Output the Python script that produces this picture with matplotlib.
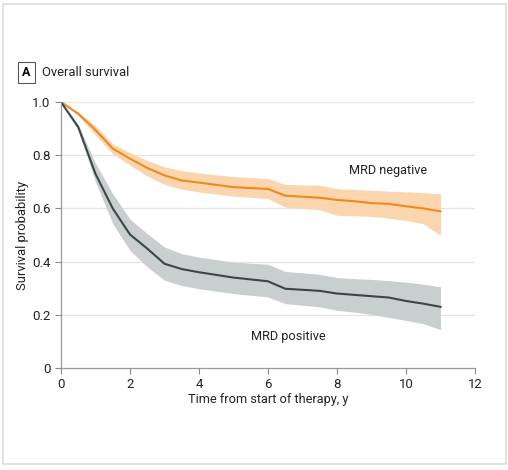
import numpy as np
import matplotlib.pyplot as plt
from matplotlib.patches import Rectangle

plt.rcParams['font.family'] = ['Roboto', 'DejaVu Sans']

# MRD negative (orange)
neg_t = [0, 0.5, 1, 1.5, 2, 2.5, 3, 3.5, 4, 5, 6, 6.5, 7.5, 8, 8.5, 9, 9.5, 10, 10.5, 11]
neg_s = [1.0, 0.956, 0.895, 0.825, 0.787, 0.752, 0.724, 0.705, 0.697, 0.68, 0.673, 0.648, 0.64, 0.632, 0.627, 0.62, 0.617, 0.608, 0.6, 0.589]
neg_hi = [1.0, 0.962, 0.91, 0.843, 0.81, 0.78, 0.756, 0.742, 0.733, 0.72, 0.712, 0.69, 0.687, 0.674, 0.671, 0.668, 0.665, 0.662, 0.659, 0.655]
neg_lo = [1.0, 0.95, 0.875, 0.806, 0.762, 0.722, 0.69, 0.672, 0.662, 0.646, 0.637, 0.605, 0.595, 0.574, 0.572, 0.57, 0.563, 0.555, 0.542, 0.499]

# MRD positive (gray)
pos_t = [0, 0.5, 1, 1.5, 2, 2.5, 3, 3.5, 4, 5, 6, 6.5, 7.5, 8, 8.5, 9, 9.5, 10, 10.5, 11]
pos_s = [1.0, 0.906, 0.73, 0.6, 0.502, 0.449, 0.392, 0.372, 0.36, 0.34, 0.326, 0.298, 0.29, 0.28, 0.275, 0.27, 0.265, 0.252, 0.242, 0.23]
pos_hi = [1.0, 0.915, 0.77, 0.655, 0.56, 0.505, 0.455, 0.43, 0.417, 0.398, 0.39, 0.363, 0.352, 0.34, 0.336, 0.333, 0.328, 0.323, 0.315, 0.305]
pos_lo = [1.0, 0.895, 0.70, 0.543, 0.442, 0.38, 0.33, 0.31, 0.298, 0.28, 0.267, 0.242, 0.23, 0.217, 0.21, 0.202, 0.19, 0.179, 0.167, 0.144]

xticks = [0, 2, 4, 6, 8, 10, 12]
yticks = [0, 0.2, 0.4, 0.6, 0.8, 1.0]
ytick_labels = ['0', '0.2', '0.4', '0.6', '0.8', '1.0']

fig = plt.figure(figsize=(5.08, 4.70), dpi=100)
ax = fig.add_axes([0.120, 0.217, 0.815, 0.566])

# outer light frame
fig.patches.append(Rectangle((0.006, 0.013), 0.990, 0.978, transform=fig.transFigure,
                             fill=False, edgecolor='#dddddd', linewidth=1.2))

ax.fill_between(neg_t, neg_lo, neg_hi, color='#fbd5ad', linewidth=0)
ax.fill_between(pos_t, pos_lo, pos_hi, color='#c9cfce', linewidth=0)
ax.plot(neg_t, neg_s, color='#ee8a1e', linewidth=1.5)
ax.plot(pos_t, pos_s, color='#3a4747', linewidth=1.5)

ax.text(9.48, 0.744, 'MRD negative', ha='center', va='center', fontsize=9.2, color='#222222')
ax.text(6.58, 0.117, 'MRD positive', ha='center', va='center', fontsize=9.2, color='#222222')

ax.set_xlim(0, 12)
ax.set_ylim(0, 1.0)
ax.set_xticks(xticks)
ax.set_yticks(yticks)
ax.set_yticklabels(ytick_labels)
ax.tick_params(labelsize=9.5, colors='#888888', length=4, width=0.8)
for lbl in ax.get_yticklabels() + ax.get_xticklabels():
    lbl.set_color('#222222')

ax.set_axisbelow(True)
ax.yaxis.grid(True, color='#e4e4e4', linewidth=0.9)
for s in ['top', 'right']:
    ax.spines[s].set_visible(False)
for s in ['left', 'bottom']:
    ax.spines[s].set_color('#999999')
    ax.spines[s].set_linewidth(0.9)

ax.set_xlabel('Time from start of therapy, y', fontsize=9.2, color='#222222', labelpad=1)
ax.set_ylabel('Survival probability', fontsize=9.4, color='#222222')
ax.yaxis.set_label_coords(-0.078, 0.5)

# panel title
fig.text(0.052, 0.846, 'A', fontsize=9, fontweight='bold', ha='center', va='center',
         bbox=dict(boxstyle='square,pad=0.35', facecolor='white', edgecolor='#555555', linewidth=0.8))
fig.text(0.083, 0.846, 'Overall survival', fontsize=9.4, ha='left', va='center', color='#222222')

fig.savefig('out.png', dpi=100)
